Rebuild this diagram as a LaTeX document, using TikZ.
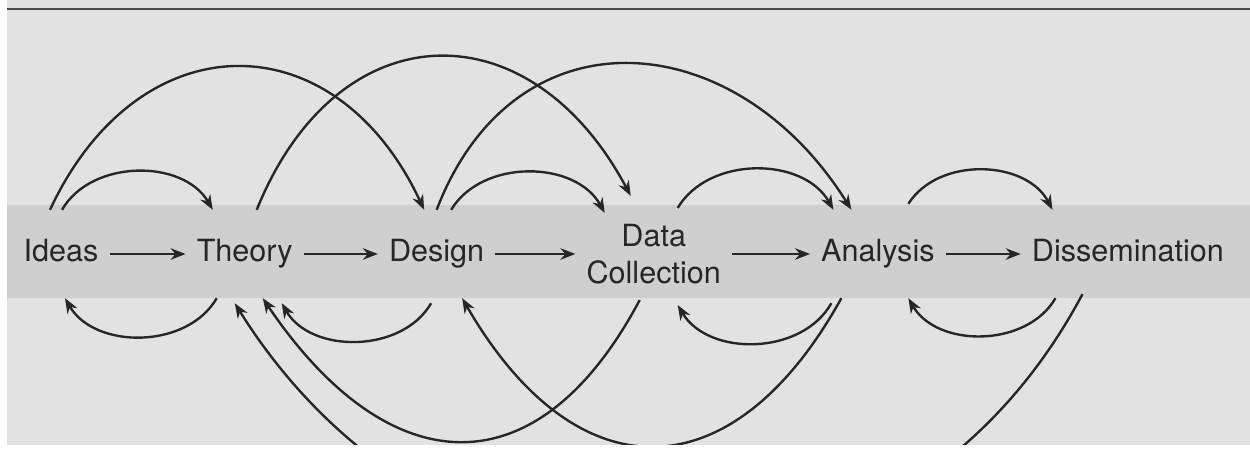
\documentclass[tikz,border=0pt]{standalone}
\usepackage{fontspec}
\setmainfont{TeX Gyre Heros}
\usepackage{tikz}
\usetikzlibrary{arrows.meta,positioning}
\definecolor{paper}{HTML}{E2E2E2}
\definecolor{band}{HTML}{CFCFCF}
\definecolor{ink}{HTML}{262626}
\definecolor{pagerule}{HTML}{4A4A4A}

\begin{document}
\begin{tikzpicture}[>={Stealth[length=8.5pt,width=6.5pt]},line width=1.35pt,node distance=1.6cm]
    \tikzstyle{stage}=[font=\fontsize{17.4}{21}\selectfont,text=ink,inner xsep=0.2cm,inner ysep=0.55cm,text height=0.46cm,text depth=0.16cm]
    \tikzstyle{stagetwo}=[font=\fontsize{17.4}{21}\selectfont,text=ink,inner xsep=0.2cm,inner ysep=0.3cm,align=center]
    \tikzstyle{flow}=[->,draw=ink,line width=1.5pt]
    \tikzstyle{loop}=[->,draw=ink]
    \useasboundingbox (0,0) rectangle (25,8.98);
    % page, with the darker strip behind the row of stages
    \fill[paper] (0.14,0.08) rectangle (25,8.98);
    \fill[band] (0.14,3.02) rectangle (25,4.88);
    \draw[pagerule,line width=0.8pt] (0.14,8.8) -- (25,8.8);

    \node[stage] (ideas) at (1.22,3.9) {Ideas};
    \node[stage,right=1.52cm of ideas] (theory) {Theory};
    \node[stage,right=1.48cm of theory] (design) {Design};
    \node[stagetwo,right=1.6cm of design] (data) {Data\\Collection};
    \node[stage,right=1.56cm of data] (analysis) {Analysis};
    \node[stage,right=1.5cm of analysis] (diss) {Dissemination};

    \draw[flow] (ideas) -- (theory);
    \draw[flow] (theory) -- (design);
    \draw[flow] (design) -- (data);
    \draw[flow] (data) -- (analysis);
    \draw[flow] (analysis) -- (diss);

    % jumps forward, over the top
    \draw[loop] ([xshift=0.2mm]ideas.north) to[bend left=60] ([xshift=-6.4mm]theory.north);
    \draw[loop] ([xshift=-2.2mm]ideas.north) to[out=65,in=115,looseness=1.44] ([xshift=-2.5mm]design.north);
    \draw[loop] ([xshift=2.4mm]theory.north) to[out=68,in=118,looseness=1.47] ([xshift=-4.6mm,yshift=2.4mm]data.north);
    \draw[loop] ([xshift=2.9mm]design.north) to[bend left=60] ([xshift=-9.8mm,yshift=-1mm]data.north);
    \draw[loop] (design.north) to[out=69,in=122,looseness=1.35] ([xshift=-5.3mm]analysis.north);
    \draw[loop] ([xshift=4.8mm]data.north) to[bend left=60] ([xshift=-8.9mm]analysis.north);
    \draw[loop] ([xshift=6.1mm,yshift=1.2mm]analysis.north) to[bend left=60] ([xshift=-15.1mm]diss.north);

    % feedback, underneath (cut off at the page edge)
    \begin{scope}
      \clip (0.14,0.08) rectangle (25,8.98);
      \draw[loop] ([xshift=-5.6mm]theory.south) to[bend left=60] ([xshift=0.8mm]ideas.south);
      \draw[loop] ([xshift=-1.1mm,yshift=-1mm]design.south) to[bend left=60] ([xshift=7.4mm,yshift=-1mm]theory.south);
      \draw[loop] ([xshift=-2.8mm]data.south) to[out=-118,in=-56,looseness=1.5] ([xshift=3.6mm]theory.south);
      \draw[loop] ([xshift=-7.3mm]analysis.south) to[out=-119,in=-60,looseness=1.53] ([xshift=5.1mm]design.south);
      \draw[loop] ([xshift=-9.3mm,yshift=-1mm]analysis.south) to[bend left=60] ([xshift=4.8mm,yshift=-1mm]data.south);
      \draw[loop] ([xshift=-14.5mm]diss.south) to[bend left=60] ([xshift=6.1mm]analysis.south);
      \draw[loop] ([xshift=-9.1mm,yshift=0.8mm]diss.south) to[out=-118,in=-58,looseness=1.2] ([xshift=-2mm,yshift=-1mm]theory.south);
    \end{scope}
\end{tikzpicture}
\end{document}
